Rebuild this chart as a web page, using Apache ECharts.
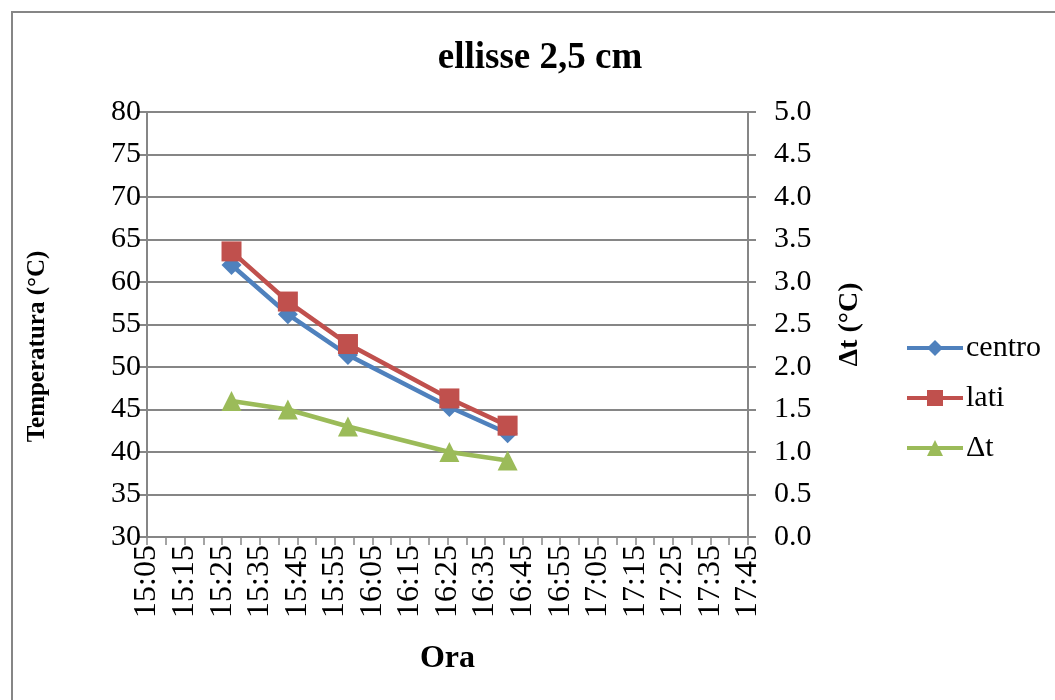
<!DOCTYPE html>
<html>
<head>
<meta charset="utf-8">
<script src="https://cdn.jsdelivr.net/npm/echarts@6/dist/echarts.min.js"></script>
<style>html,body{margin:0;padding:0;background:#fff}#c{width:1055px;height:700px}</style>
</head>
<body>
<div id="c"></div>
<script>
const times = ['15:27:30', '15:42:30', '15:58:30', '16:25:30', '16:41:00'];
const centro = [62.0, 56.2, 51.4, 45.3, 42.2];
const lati = [63.6, 57.7, 52.7, 46.3, 43.1];
const deltaT = [1.6, 1.5, 1.3, 1.0, 0.9];
const xMinLabel = '15:05';
const xMaxLabel = '17:45';
const seriesNames = ['centro', 'lati', 'Δt'];

function toMin(s) { const p = s.split(':').map(Number); return p[0] * 60 + p[1] + (p[2] || 0) / 60; }
function fmt(m) { const h = Math.floor(m / 60), mm = Math.round(m - h * 60); return h + ':' + (mm < 10 ? '0' : '') + mm; }
const xMin = toMin(xMinLabel), xMax = toMin(xMaxLabel);
const font = 'Liberation Serif';
const chart = echarts.init(document.getElementById('c'));
const pair = arr => arr.map((v, i) => [toMin(times[i]), v]);
chart.setOption({
  animation: false,
  graphic: [{ type: 'rect', shape: { x: 12, y: 12, width: 1100, height: 800 }, style: { fill: 'none', stroke: '#868686', lineWidth: 2 } }],
  title: { text: 'ellisse 2,5 cm', left: 535, top: 35, textAlign: 'center', textStyle: { fontFamily: font, fontSize: 37, fontWeight: 'bold', color: '#000' } },
  grid: { left: 147, right: 307, top: 112, bottom: 163 },
  legend: {
    orient: 'vertical', left: 900, top: 328, itemWidth: 56, itemHeight: 20, itemGap: 20,
    data: seriesNames,
    lineStyle: { width: 4 },
    textStyle: { fontFamily: font, fontSize: 30, lineHeight: 30, color: '#000', padding: [0, 0, 0, -2] }
  },
  xAxis: {
    type: 'value', min: xMin, max: xMax, interval: 5,
    name: 'Ora', nameLocation: 'middle', nameGap: 106,
    nameTextStyle: { fontFamily: font, fontSize: 32, fontWeight: 'bold', color: '#000' },
    axisLine: { lineStyle: { color: '#868686', width: 2 } },
    axisTick: { length: 8, lineStyle: { color: '#868686', width: 1.5 } },
    splitLine: { show: false },
    axisLabel: {
      rotate: 90, fontFamily: font, fontSize: 32, color: '#000', margin: 8,
      formatter: v => ((Math.round(v - xMin)) % 10 === 0 ? fmt(v) : '')
    }
  },
  yAxis: [{
    type: 'value', min: 30, max: 80, interval: 5,
    name: 'Temperatura (°C)', nameLocation: 'middle', nameGap: 97, nameRotate: 90,
    nameTextStyle: { fontFamily: font, fontSize: 25, fontWeight: 'bold', color: '#000', padding: [0, 44, 0, 0] },
    axisLine: { show: true, lineStyle: { color: '#868686', width: 2 } },
    axisTick: { show: true, length: 8, lineStyle: { color: '#868686', width: 2 } },
    splitLine: { lineStyle: { color: '#868686', width: 2 } },
    axisLabel: { fontFamily: font, fontSize: 30, color: '#000', margin: 6 }
  }, {
    type: 'value', min: 0, max: 5, interval: 0.5, position: 'right',
    name: 'Δt (°C)', nameLocation: 'middle', nameGap: 88, nameRotate: 90,
    nameTextStyle: { fontFamily: font, fontSize: 28, fontWeight: 'bold', color: '#000' },
    axisLine: { show: true, lineStyle: { color: '#868686', width: 2 } },
    axisTick: { show: true, length: 8, lineStyle: { color: '#868686', width: 2 } },
    splitLine: { show: false },
    axisLabel: { fontFamily: font, fontSize: 30, color: '#000', margin: 26, formatter: v => v.toFixed(1) }
  }],
  series: [
    { name: seriesNames[0], type: 'line', data: pair(centro), yAxisIndex: 0, symbol: 'diamond', symbolSize: 20,
      lineStyle: { color: '#4F81BD', width: 4.5 }, itemStyle: { color: '#4F81BD' } },
    { name: seriesNames[1], type: 'line', data: pair(lati), yAxisIndex: 0, symbol: 'rect', symbolSize: 20,
      lineStyle: { color: '#C0504D', width: 4.5 }, itemStyle: { color: '#C0504D' } },
    { name: seriesNames[2], type: 'line', data: pair(deltaT), yAxisIndex: 1, symbol: 'triangle', symbolSize: 20,
      lineStyle: { color: '#9BBB59', width: 4.5 }, itemStyle: { color: '#9BBB59' } }
  ]
});
</script>
</body>
</html>
